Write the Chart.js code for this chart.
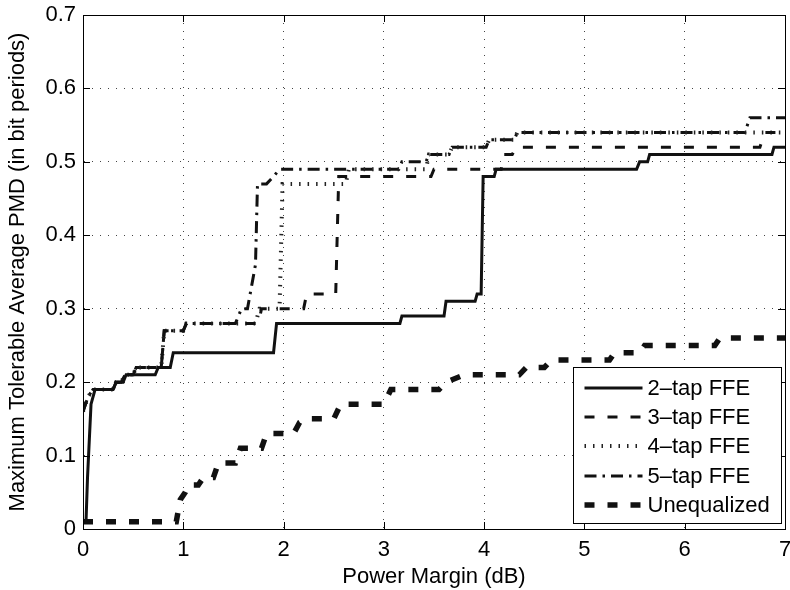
<!DOCTYPE html>
<html>
<head>
<meta charset="utf-8">
<script src="https://cdn.jsdelivr.net/npm/chart.js@4.4.1/dist/chart.umd.min.js"></script>
<style>
html,body{margin:0;padding:0;background:#fff;}
#wrap{width:790px;height:590px;position:relative;}
</style>
</head>
<body>
<div id="wrap"><canvas id="c" width="790" height="590"></canvas></div>
<script>
// ---- data ----
const xTicks = [0, 1, 2, 3, 4, 5, 6, 7];
const yTicks = [0, 0.1, 0.2, 0.3, 0.4, 0.5, 0.6, 0.7];
const xTitle = 'Power Margin (dB)';
const yTitle = 'Maximum Tolerable Average PMD (in bit periods)';
const seriesLabels = ['2\u2013tap FFE', '3\u2013tap FFE', '4\u2013tap FFE', '5\u2013tap FFE', 'Unequalized'];

const tap2X = [0, 0.03, 0.045, 0.08, 0.12, 0.30, 0.33, 0.40, 0.43, 0.72, 0.75, 0.87, 0.90, 1.90, 1.93, 3.16, 3.18, 3.60, 3.62, 3.91, 3.93, 3.97, 3.99, 4.10, 4.12, 5.52, 5.55, 5.63, 5.65, 6.87, 6.89, 7];
const tap2Y = [0.01, 0.01, 0.07, 0.17, 0.19, 0.19, 0.20, 0.20, 0.21, 0.21, 0.22, 0.22, 0.24, 0.24, 0.28, 0.28, 0.29, 0.29, 0.31, 0.31, 0.32, 0.32, 0.48, 0.48, 0.49, 0.49, 0.50, 0.50, 0.51, 0.51, 0.52, 0.52];

const tap3X = [0, 0.05, 0.1, 0.3, 0.33, 0.38, 0.42, 0.5, 0.53, 0.78, 0.81, 1.0, 1.03, 1.75, 1.78, 2.2, 2.23, 2.52, 2.55, 3.47, 3.5, 4.17, 4.2, 4.28, 4.32, 6.75, 6.8, 7];
const tap3Y = [0.16, 0.18, 0.19, 0.19, 0.20, 0.20, 0.21, 0.21, 0.22, 0.22, 0.27, 0.27, 0.28, 0.28, 0.30, 0.30, 0.32, 0.32, 0.48, 0.48, 0.49, 0.49, 0.51, 0.51, 0.52, 0.52, 0.54, 0.54];

const tap4X = [0, 0.05, 0.1, 0.3, 0.33, 0.38, 0.42, 0.5, 0.53, 0.78, 0.81, 1.0, 1.03, 1.72, 1.76, 1.96, 1.99, 2.62, 2.65, 3.42, 3.45, 3.65, 3.68, 4.02, 4.05, 4.3, 4.33, 7];
const tap4Y = [0.16, 0.18, 0.19, 0.19, 0.20, 0.20, 0.21, 0.21, 0.22, 0.22, 0.27, 0.27, 0.28, 0.28, 0.30, 0.30, 0.47, 0.47, 0.49, 0.49, 0.51, 0.51, 0.52, 0.52, 0.53, 0.53, 0.54, 0.54];

const tap5X = [0, 0.05, 0.1, 0.3, 0.33, 0.38, 0.42, 0.5, 0.53, 0.78, 0.81, 1.0, 1.03, 1.52, 1.58, 1.64, 1.72, 1.74, 1.83, 1.9, 1.96, 3.15, 3.18, 3.42, 3.45, 3.65, 3.68, 4.02, 4.05, 4.3, 4.33, 6.6, 6.65, 7];
const tap5Y = [0.16, 0.18, 0.19, 0.19, 0.20, 0.20, 0.21, 0.21, 0.22, 0.22, 0.27, 0.27, 0.28, 0.28, 0.30, 0.30, 0.36, 0.47, 0.47, 0.48, 0.49, 0.49, 0.50, 0.50, 0.51, 0.51, 0.52, 0.52, 0.53, 0.53, 0.54, 0.54, 0.56, 0.56];

const uneqX = [0, 0.93, 0.97, 1.02, 1.05, 1.15, 1.2, 1.3, 1.35, 1.52, 1.57, 1.78, 1.83, 2.1, 2.16, 2.22, 2.5, 2.57, 3.0, 3.07, 3.55, 3.62, 3.8, 4.35, 4.42, 4.6, 4.67, 5.25, 5.3, 5.55, 5.6, 6.3, 6.35, 7];
const uneqY = [0.01, 0.01, 0.04, 0.05, 0.06, 0.06, 0.07, 0.07, 0.09, 0.09, 0.11, 0.11, 0.13, 0.13, 0.145, 0.15, 0.15, 0.17, 0.17, 0.19, 0.19, 0.20, 0.21, 0.21, 0.22, 0.22, 0.23, 0.23, 0.24, 0.24, 0.25, 0.25, 0.26, 0.26];

// ---- build ----
const pts = (xs, ys) => xs.map((x, i) => ({x: x, y: ys[i]}));
const FONT = 'Liberation Sans, Arial, Helvetica, sans-serif';
const FS = 22;

const styles = [
  {borderWidth: 3, borderDash: []},
  {borderWidth: 3, borderDash: [10, 13]},
  {borderWidth: 4, borderDash: [1.5, 7]},
  {borderWidth: 3, borderDash: [12, 6, 2.5, 6]},
  {borderWidth: 5.5, borderDash: [10, 13]}
];
const seriesData = [pts(tap2X, tap2Y), pts(tap3X, tap3Y), pts(tap4X, tap4Y), pts(tap5X, tap5Y), pts(uneqX, uneqY)];

const datasets = seriesData.map((d, i) => ({
  label: seriesLabels[i],
  data: d,
  borderColor: i === 2 ? '#222' : '#111',
  borderWidth: styles[i].borderWidth,
  borderDash: styles[i].borderDash,
  borderCapStyle: 'butt',
  borderJoinStyle: 'miter',
  pointRadius: 0,
  tension: 0,
  fill: false
}));

const frameTicks = {
  id: 'frameTicks',
  afterDatasetsDraw(chart) {
    const ctx = chart.ctx, a = chart.chartArea;
    const xs = chart.scales.x, ys = chart.scales.y;
    ctx.save();
    ctx.strokeStyle = '#000';
    ctx.lineWidth = 1;
    ctx.setLineDash([]);
    ctx.strokeRect(Math.round(a.left) + 0.5, Math.round(a.top) + 0.5, Math.round(a.right - a.left), Math.round(a.bottom - a.top));
    const L = 7;
    ctx.beginPath();
    xs.ticks.forEach(t => {
      const px = Math.round(xs.getPixelForValue(t.value)) + 0.5;
      ctx.moveTo(px, a.bottom); ctx.lineTo(px, a.bottom - L);
      ctx.moveTo(px, a.top); ctx.lineTo(px, a.top + L);
    });
    ys.ticks.forEach(t => {
      const py = Math.round(ys.getPixelForValue(t.value)) + 0.5;
      ctx.moveTo(a.left, py); ctx.lineTo(a.left + L, py);
      ctx.moveTo(a.right, py); ctx.lineTo(a.right - L, py);
    });
    ctx.stroke();
    ctx.restore();

    // legend box inside the axes, lower right
    const ds = chart.data.datasets;
    const w = 208, rowH = 29.4, h = 156;
    const x0 = Math.round(a.right - 4 - w) + 0.5;
    const y0 = Math.round(a.bottom - 6 - h) + 0.5;
    ctx.save();
    ctx.fillStyle = '#fff';
    ctx.fillRect(x0, y0, w, h);
    ctx.strokeStyle = '#000';
    ctx.lineWidth = 1;
    ctx.strokeRect(x0, y0, w, h);
    ctx.font = FS + 'px ' + FONT;
    ctx.textBaseline = 'middle';
    ctx.textAlign = 'left';
    ds.forEach((d, i) => {
      const cy = y0 + 20 + i * rowH;
      ctx.save();
      ctx.strokeStyle = d.borderColor;
      ctx.lineWidth = d.borderWidth;
      ctx.setLineDash(d.borderDash || []);
      ctx.lineCap = 'butt';
      ctx.beginPath();
      ctx.moveTo(x0 + 11, Math.round(cy));
      ctx.lineTo(x0 + 69, Math.round(cy));
      ctx.stroke();
      ctx.restore();
      ctx.fillStyle = '#000';
      ctx.fillText(d.label, x0 + 74, cy + 1);
    });
    ctx.restore();
  }
};

const fontObj = {family: FONT, size: FS};

new Chart(document.getElementById('c'), {
  type: 'line',
  data: {datasets: datasets},
  options: {
    responsive: false,
    animation: false,
    devicePixelRatio: 1,
    layout: {padding: {left: 0, right: 5, top: 15, bottom: 0}},
    plugins: {legend: {display: false}, tooltip: {enabled: false}},
    scales: {
      x: {
        type: 'linear', min: 0, max: 7,
        afterBuildTicks: s => { s.ticks = xTicks.map(v => ({value: v})); },
        afterFit: s => { s.height = 61; s.paddingLeft = 0; s.paddingRight = 0; },
        ticks: {font: fontObj, color: '#000', padding: 8, maxRotation: 0, autoSkip: false,
                callback: v => String(v)},
        grid: {color: '#444', lineWidth: 1, drawTicks: false},
        border: {display: true, color: '#000', width: 1, dash: [1, 7]},
        title: {display: true, text: xTitle, font: fontObj, color: '#000', padding: {top: 0, bottom: 0}}
      },
      y: {
        type: 'linear', min: 0, max: 0.7,
        afterBuildTicks: s => { s.ticks = yTicks.map(v => ({value: v})); },
        afterFit: s => { s.width = 83; s.paddingTop = 0; s.paddingBottom = 0; },
        ticks: {font: fontObj, color: '#000', padding: 7, autoSkip: false,
                callback: v => (v === 0 ? '0' : (Math.round(v * 10) / 10).toFixed(1))},
        grid: {color: '#444', lineWidth: 1, drawTicks: false},
        border: {display: true, color: '#000', width: 1, dash: [1, 7]},
        title: {display: true, text: yTitle, font: fontObj, color: '#000', padding: {top: 5, bottom: 0}}
      }
    }
  },
  plugins: [frameTicks]
});
</script>
</body>
</html>
